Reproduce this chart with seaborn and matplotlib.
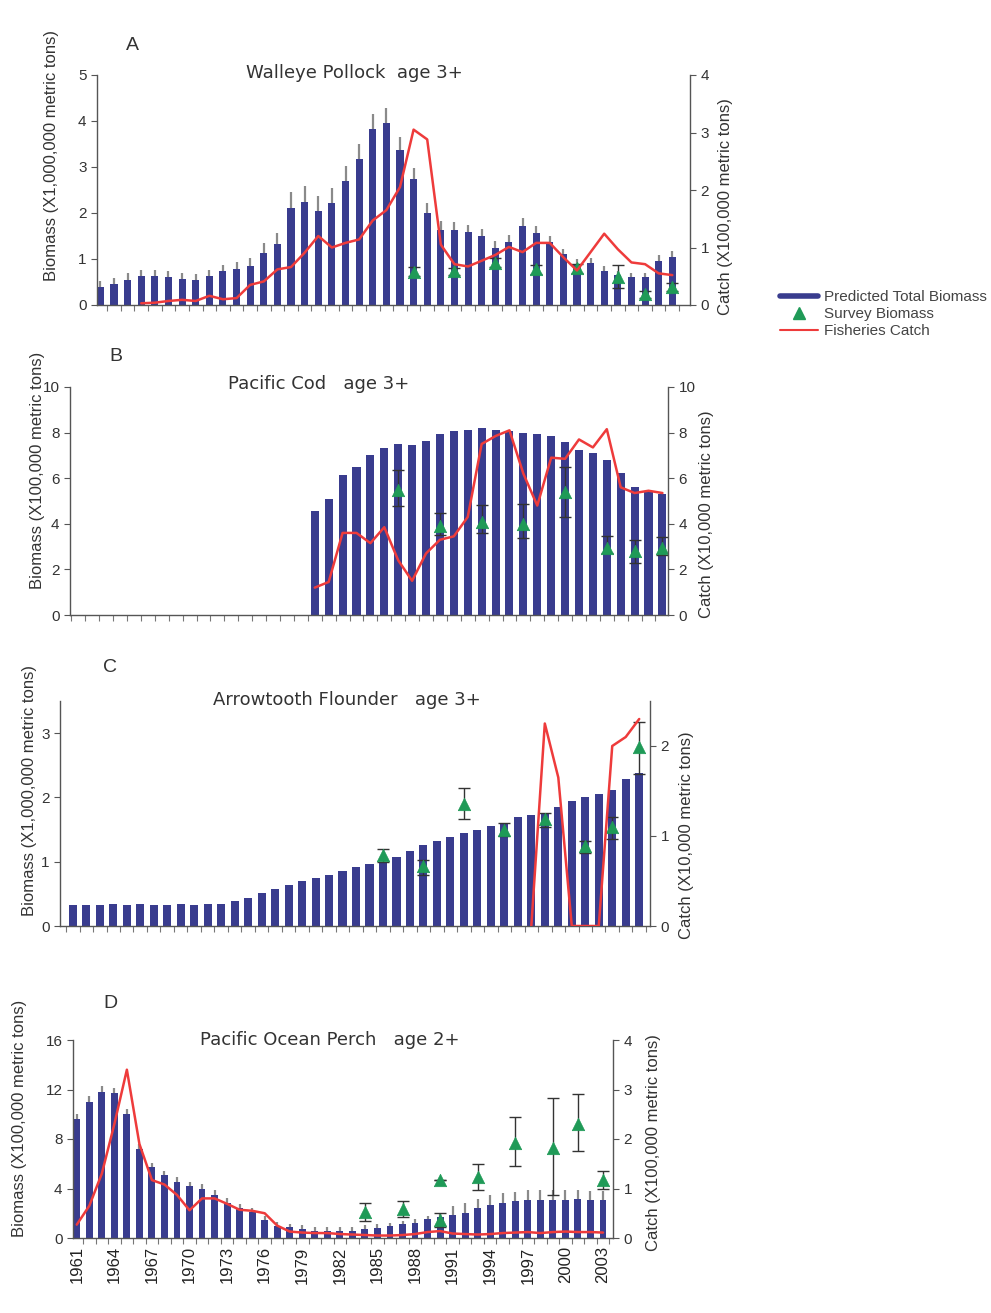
import numpy as np
import pandas as pd
import matplotlib
matplotlib.use("Agg")
import matplotlib.pyplot as plt
import seaborn as sns
from matplotlib.lines import Line2D

# ---------------- data ----------------
years = list(range(1961, 2004))
NA = np.nan

# A  Walleye pollock
pollock_bio = [0.40, 0.45, 0.55, 0.62, 0.62, 0.60, 0.56, 0.55, 0.62, 0.73, 0.78, 0.85, 1.13,
               1.32, 2.10, 2.24, 2.05, 2.21, 2.70, 3.17, 3.83, 3.96, 3.37, 2.73, 2.01, 1.63,
               1.63, 1.58, 1.50, 1.25, 1.38, 1.72, 1.56, 1.37, 1.10, 0.90, 0.92, 0.75, 0.65,
               0.60, 0.60, 0.96, 1.04]
pollock_bio_err = [0.13, 0.13, 0.14, 0.15, 0.15, 0.14, 0.13, 0.13, 0.14, 0.15, 0.16, 0.18, 0.22,
                   0.25, 0.35, 0.35, 0.32, 0.33, 0.33, 0.33, 0.33, 0.33, 0.28, 0.25, 0.20, 0.20,
                   0.17, 0.15, 0.15, 0.14, 0.15, 0.17, 0.15, 0.14, 0.12, 0.10, 0.10, 0.10, 0.10,
                   0.10, 0.10, 0.12, 0.13]
pollock_catch = [NA, NA, NA, 0.03, 0.04, 0.07, 0.09, 0.07, 0.16, 0.10, 0.12, 0.35, 0.41,
                 0.62, 0.66, 0.91, 1.20, 1.00, 1.08, 1.14, 1.47, 1.65, 2.05, 3.05, 2.88, 1.05,
                 0.71, 0.67, 0.77, 0.87, 1.01, 0.92, 1.08, 1.08, 0.83, 0.60, 0.92, 1.24, 0.97,
                 0.74, 0.71, 0.55, 0.52]
pollock_sv_years = [1984, 1987, 1990, 1993, 1996, 1999, 2001, 2003]
pollock_sv = [0.72, 0.73, 0.92, 0.78, 0.80, 0.61, 0.23, 0.39]
pollock_sv_lo = [0.62, 0.65, 0.82, 0.68, 0.70, 0.36, 0.15, 0.31]
pollock_sv_hi = [0.82, 0.81, 1.02, 0.88, 0.90, 0.86, 0.31, 0.47]

# B  Pacific cod
cod_bio = [NA] * 17 + [4.55, 5.10, 6.15, 6.50, 7.03, 7.32, 7.50, 7.46, 7.63, 7.95, 8.05, 8.10,
                       8.20, 8.10, 8.06, 8.00, 7.96, 7.85, 7.60, 7.25, 7.10, 6.80, 6.25, 5.60,
                       5.40, 5.30]
cod_catch = [NA] * 17 + [1.20, 1.45, 3.60, 3.60, 3.15, 3.85, 2.40, 1.50, 2.70, 3.30, 3.45, 4.30,
                         7.50, 7.85, 8.10, 6.20, 4.80, 6.90, 6.85, 7.70, 7.35, 8.15, 5.60, 5.35,
                         5.45, 5.35]
cod_sv_years = [1984, 1987, 1990, 1993, 1996, 1999, 2001, 2003]
cod_sv = [5.50, 3.92, 4.10, 3.98, 5.40, 2.94, 2.79, 2.93]
cod_sv_lo = [4.76, 3.50, 3.58, 3.39, 4.30, 2.72, 2.28, 2.63]
cod_sv_hi = [6.37, 4.47, 4.82, 4.86, 6.49, 3.45, 3.30, 3.44]

# C  Arrowtooth flounder
atf_bio = [0.32, 0.33, 0.33, 0.34, 0.33, 0.34, 0.33, 0.33, 0.34, 0.33, 0.34, 0.35, 0.39,
           0.43, 0.51, 0.58, 0.64, 0.70, 0.74, 0.79, 0.85, 0.92, 0.96, 1.00, 1.07, 1.16,
           1.26, 1.33, 1.39, 1.45, 1.49, 1.55, 1.60, 1.69, 1.73, 1.76, 1.85, 1.94, 2.00,
           2.05, 2.12, 2.29, 2.38]
atf_catch = [NA] * 34 + [0.0, 2.25, 1.65, 0.0, 0.0, 0.0, 2.00, 2.10, 2.30]
atf_sv_years = [1984, 1987, 1990, 1993, 1996, 1999, 2001, 2003]
atf_sv = [1.10, 0.93, 1.90, 1.50, 1.67, 1.24, 1.54, 2.79]
atf_sv_lo = [1.00, 0.80, 1.66, 1.40, 1.54, 1.13, 1.36, 2.37]
atf_sv_hi = [1.20, 1.03, 2.15, 1.61, 1.76, 1.32, 1.70, 3.17]

# D  Pacific ocean perch
pop_bio = [9.60, 11.00, 11.80, 11.70, 10.00, 7.20, 5.75, 5.10, 4.55, 4.20, 4.00, 3.50, 2.85,
           2.40, 2.10, 1.45, 1.00, 0.85, 0.75, 0.55, 0.55, 0.55, 0.60, 0.72, 0.80, 0.95,
           1.10, 1.25, 1.50, 1.70, 1.86, 2.05, 2.40, 2.70, 2.85, 3.00, 3.10, 3.10, 3.10,
           3.10, 3.15, 3.08, 3.05]
pop_bio_err = [0.45, 0.45, 0.45, 0.45, 0.45, 0.40, 0.35, 0.35, 0.35, 0.35, 0.35, 0.35, 0.35,
               0.35, 0.35, 0.30, 0.30, 0.30, 0.30, 0.30, 0.30, 0.30, 0.30, 0.30, 0.30, 0.30,
               0.30, 0.30, 0.30, 0.30, 0.75, 0.75, 0.75, 0.75, 0.75, 0.75, 0.75, 0.75, 0.75,
               0.75, 0.75, 0.75, 0.75]
pop_catch = [0.27, 0.65, 1.30, 2.30, 3.40, 1.90, 1.17, 1.08, 0.87, 0.56, 0.80, 0.80, 0.69,
             0.57, 0.55, 0.50, 0.25, 0.13, 0.11, 0.10, 0.10, 0.08, 0.07, 0.06, 0.05, 0.05,
             0.06, 0.08, 0.12, 0.14, 0.09, 0.08, 0.07, 0.08, 0.10, 0.11, 0.12, 0.10, 0.12,
             0.13, 0.12, 0.12, 0.11]
pop_sv_years = [1984, 1987, 1990, 1990, 1993, 1996, 1999, 2001, 2003]
pop_sv = [2.10, 2.35, 4.70, 1.46, 4.90, 7.70, 7.30, 9.20, 4.70]
pop_sv_lo = [1.40, 1.70, 4.70, 0.90, 3.90, 5.80, 3.50, 7.00, 4.00]
pop_sv_hi = [2.80, 2.97, 4.70, 2.05, 6.00, 9.80, 11.30, 11.60, 5.40]

tick_years = list(range(1961, 2004, 3))

# ---------------- style ----------------
sns.set_style("ticks")
plt.rcParams['font.family'] = ['Liberation Sans', 'DejaVu Sans']

NAVY = '#393c8e'
GREEN = '#1f9a57'
RED = '#ee3b3b'
TXT = '#333333'
SPINE = '#555555'

W, H = 991, 1313
fig = plt.figure(figsize=(W / 100, H / 100), dpi=100)


def frac_rect(xl, xr, ytop, ybot):
    return [xl / W, 1 - ybot / H, (xr - xl) / W, (ybot - ytop) / H]


def panel(rect, xlim, bio, bio_err, catch, sv_years, sv, sv_lo, sv_hi,
          ylim_l, yt_l, ylim_r, yt_r, ylab_l, ylab_r, bar_w, lab_l_xy, lab_r_xy,
          xlabels=False):
    ax = fig.add_axes(rect)
    pos = np.arange(len(years))
    df = pd.DataFrame({'pos': pos, 'bio': bio})
    sns.barplot(data=df, x='pos', y='bio', ax=ax, color=NAVY, saturation=1,
                width=bar_w, errorbar=None, native_scale=True, linewidth=0, zorder=2)
    if bio_err is not None:
        ax.errorbar(pos, bio, yerr=[np.zeros(len(pos)), bio_err], fmt='none',
                    ecolor='#8a8a8a', elinewidth=1.6, capsize=0, zorder=3)
    spos = np.array([years.index(y) for y in sv_years])
    sv_a = np.array(sv)
    ax.errorbar(spos, sv_a, yerr=[sv_a - np.array(sv_lo), np.array(sv_hi) - sv_a],
                fmt='none', ecolor='#333333', elinewidth=1.0, capsize=4, capthick=1.0, zorder=4)
    sns.scatterplot(x=spos, y=sv_a, ax=ax, marker='^', color=GREEN, s=80,
                    edgecolor=GREEN, linewidth=0.5, zorder=5, legend=False)

    ax.set_xlim(*xlim)
    ax.set_ylim(*ylim_l)
    ax.set_yticks(yt_l)
    ax.set_yticklabels([f"{v:g}" for v in yt_l])
    ax.set_ylabel(ylab_l, fontsize=12, color=TXT)
    ax.yaxis.set_label_coords(*lab_l_xy)
    ax.set_xlabel('')
    ax.set_xticks(np.arange(-0.5, len(years), 1), minor=True)
    if xlabels:
        tp = [years.index(y) for y in tick_years]
        ax.set_xticks(tp)
        ax.set_xticklabels([str(y) for y in tick_years], rotation=90, fontsize=12, color='#222222')
        ax.tick_params(axis='x', which='major', length=0, pad=6)
    else:
        ax.set_xticks([])
    ax.tick_params(axis='x', which='minor', length=4, width=0.8, color='#777777', direction='out')
    ax.tick_params(axis='y', labelsize=11, labelcolor=TXT, length=4, width=0.8, color=SPINE)
    for s in ['top', 'right']:
        ax.spines[s].set_visible(False)
    for s in ['left', 'bottom']:
        ax.spines[s].set_color(SPINE)
        ax.spines[s].set_linewidth(1.0)

    ax2 = ax.twinx()
    sns.lineplot(x=pos, y=catch, ax=ax2, color=RED, linewidth=1.8, estimator=None,
                 errorbar=None, sort=False, zorder=6)
    ax2.set_ylim(*ylim_r)
    ax2.set_yticks(yt_r)
    ax2.set_yticklabels([f"{v:g}" for v in yt_r])
    ax2.set_ylabel(ylab_r, fontsize=12, color=TXT)
    ax2.yaxis.set_label_coords(*lab_r_xy)
    ax2.tick_params(axis='y', labelsize=11, labelcolor=TXT, length=4, width=0.8, color=SPINE)
    for s in ['top', 'left', 'bottom']:
        ax2.spines[s].set_visible(False)
    ax2.spines['right'].set_color(SPINE)
    ax2.spines['right'].set_linewidth(1.0)
    ax2.set_xlim(*xlim)
    return ax, ax2


# A
panel(frac_rect(97, 690, 75, 305), (-0.25, 43.3), pollock_bio, pollock_bio_err, pollock_catch,
      pollock_sv_years, pollock_sv, pollock_sv_lo, pollock_sv_hi,
      (0, 5), [0, 1, 2, 3, 4, 5], (0, 4), [0, 1, 2, 3, 4],
      'Biomass (X1,000,000 metric tons)', 'Catch (X100,000 metric tons)', 0.52,
      (-0.064, 0.652), (1.047, 0.426))
# B
panel(frac_rect(70, 668, 387, 615), (-0.6, 42.4), cod_bio, None, cod_catch,
      cod_sv_years, cod_sv, cod_sv_lo, cod_sv_hi,
      (0, 10), [0, 2, 4, 6, 8, 10], (0, 10), [0, 2, 4, 6, 8, 10],
      'Biomass (X100,000 metric tons)', 'Catch (X10,000 metric tons)', 0.58,
      (-0.042, 0.636), (1.052, 0.443))
# C
panel(frac_rect(60, 650, 701, 926), (-0.95, 42.8), atf_bio, None, atf_catch,
      atf_sv_years, atf_sv, atf_sv_lo, atf_sv_hi,
      (0, 3.5), [0, 1, 2, 3], (0, 2.5), [0, 1, 2],
      'Biomass (X1,000,000 metric tons)', 'Catch (X10,000 metric tons)', 0.6,
      (-0.039, 0.604), (1.049, 0.404))
# D
panel(frac_rect(73, 613, 1040, 1238), (-0.3, 42.8), pop_bio, pop_bio_err, pop_catch,
      pop_sv_years, pop_sv, pop_sv_lo, pop_sv_hi,
      (0, 16), [0, 4, 8, 12, 16], (0, 4), [0, 1, 2, 3, 4],
      'Biomass (X100,000 metric tons)', 'Catch (X100,000 metric tons)', 0.55,
      (-0.085, 0.606), (1.061, 0.48), xlabels=True)

# titles and panel letters
title_kw = dict(fontsize=13, ha='center', va='center', color=TXT, family=['DejaVu Sans'])
fig.text(354 / W, 1 - 73 / H, 'Walleye Pollock  age 3+', **title_kw)
fig.text(319 / W, 1 - 384 / H, 'Pacific Cod   age 3+', **title_kw)
fig.text(347 / W, 1 - 700 / H, 'Arrowtooth Flounder   age 3+', **title_kw)
fig.text(330 / W, 1 - 1040 / H, 'Pacific Ocean Perch   age 2+', **title_kw)
let_kw = dict(fontsize=14, ha='center', va='center', color=TXT)
fig.text(132 / W, 1 - 45 / H, 'A', **let_kw)
fig.text(116 / W, 1 - 356 / H, 'B', **let_kw)
fig.text(110 / W, 1 - 668 / H, 'C', **let_kw)
fig.text(110 / W, 1 - 1003 / H, 'D', **let_kw)

handles = [Line2D([], [], color=NAVY, lw=4),
           Line2D([], [], marker='^', color=GREEN, ls='none', markersize=8),
           Line2D([], [], color=RED, lw=1.5)]
labels = ['Predicted Total Biomass', 'Survey Biomass', 'Fisheries Catch']
leg = fig.legend(handles, labels, loc='upper left', bbox_to_anchor=(774 / W, 1 - 284 / H),
                 frameon=False, fontsize=11, handlelength=2.5, labelspacing=0.2,
                 handletextpad=0.4, borderaxespad=0)
for t in leg.get_texts():
    t.set_color('#444444')

fig.savefig('out.png', dpi=100)
